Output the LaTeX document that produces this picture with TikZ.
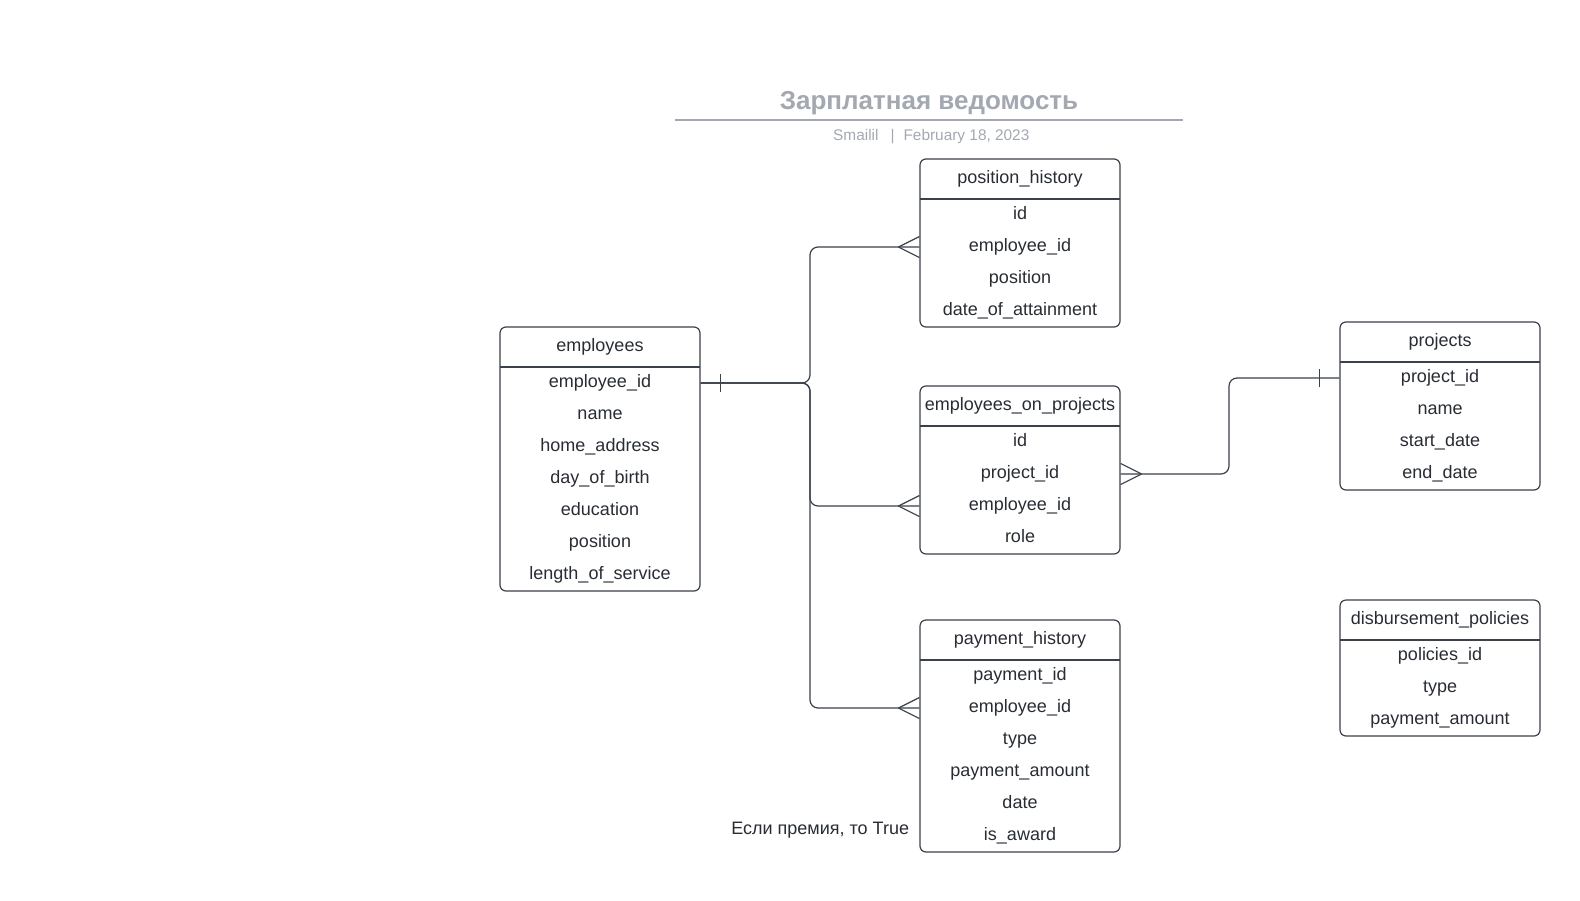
\documentclass[tikz,border=0pt]{standalone}
\usepackage{fontspec}
\setmainfont{Liberation Sans}
\usetikzlibrary{positioning,fit}

\definecolor{ink}{HTML}{282C33}
\definecolor{edge}{HTML}{3A414A}
\definecolor{titlegray}{HTML}{A3A8B1}

\begin{document}
\begin{tikzpicture}[x=1pt, y=-1pt,
    txt/.style={font=\fontsize{18}{22}\selectfont, text=ink, text height=12.5pt, text depth=3.5pt, inner sep=0pt, outer sep=0pt},
    head/.style={txt, minimum width=200pt, minimum height=40pt},
    field/.style={txt, minimum width=200pt, minimum height=32pt},
    table/.style={draw=edge, line width=1.2pt, rounded corners=6pt, inner sep=0pt},
    sep/.style={draw=edge, line width=1.2pt},
    rel/.style={draw=edge, line width=1.2pt, rounded corners=8pt},
    crowfoot/.pic={\draw[edge, line width=1.2pt] (-21,0) -- (0,-10.5) (-21,0) -- (0,10.5);},
    onebar/.pic={\draw[edge, line width=1.2pt] (20,-9) -- (20,9);}
]
\useasboundingbox (0,0) rectangle (1580,900);

% --- Title ---
\node[font=\fontsize{26}{30}\selectfont\bfseries, text=titlegray, anchor=base, inner sep=0pt] (title) at (929,109) {Зарплатная ведомость};
\draw[titlegray, line width=1.5pt] (675,120) -- (1183,120);
\node[font=\fontsize{15.4}{18}\selectfont, text=titlegray, anchor=base west, inner sep=0pt] (sub) at (833,140)
    {Smailil\hspace{12pt}|\hspace{9pt}February 18, 2023};

% --- employees ---
\node[head] (emp-h) at (600,347) {employees};
\node[field, below=0pt of emp-h] (emp-id) {employee\_id};
\node[field, below=0pt of emp-id] (emp-name) {name};
\node[field, below=0pt of emp-name] (emp-addr) {home\_address};
\node[field, below=0pt of emp-addr] (emp-birth) {day\_of\_birth};
\node[field, below=0pt of emp-birth] (emp-edu) {education};
\node[field, below=0pt of emp-edu] (emp-pos) {position};
\node[field, below=0pt of emp-pos] (emp-len) {length\_of\_service};
\node[table, fit=(emp-h)(emp-len)] (emp) {};
\draw[sep] (emp-h.south west) -- (emp-h.south east);

% --- position_history ---
\node[head] (ph-h) at (1020,179) {position\_history};
\node[field, below=0pt of ph-h] (ph-id) {id};
\node[field, below=0pt of ph-id] (ph-eid) {employee\_id};
\node[field, below=0pt of ph-eid] (ph-pos) {position};
\node[field, below=0pt of ph-pos] (ph-date) {date\_of\_attainment};
\node[table, fit=(ph-h)(ph-date)] (ph) {};
\draw[sep] (ph-h.south west) -- (ph-h.south east);

% --- employees_on_projects ---
\node[head] (eop-h) at (1020,406) {employees\_on\_projects};
\node[field, below=0pt of eop-h] (eop-id) {id};
\node[field, below=0pt of eop-id] (eop-pid) {project\_id};
\node[field, below=0pt of eop-pid] (eop-eid) {employee\_id};
\node[field, below=0pt of eop-eid] (eop-role) {role};
\node[table, fit=(eop-h)(eop-role)] (eop) {};
\draw[sep] (eop-h.south west) -- (eop-h.south east);

% --- payment_history ---
\node[head] (pay-h) at (1020,640) {payment\_history};
\node[field, below=0pt of pay-h] (pay-id) {payment\_id};
\node[field, below=0pt of pay-id] (pay-eid) {employee\_id};
\node[field, below=0pt of pay-eid] (pay-type) {type};
\node[field, below=0pt of pay-type] (pay-amt) {payment\_amount};
\node[field, below=0pt of pay-amt] (pay-date) {date};
\node[field, below=0pt of pay-date] (pay-award) {is\_award};
\node[table, fit=(pay-h)(pay-award)] (pay) {};
\draw[sep] (pay-h.south west) -- (pay-h.south east);

% --- projects ---
\node[head] (prj-h) at (1440,342) {projects};
\node[field, below=0pt of prj-h] (prj-id) {project\_id};
\node[field, below=0pt of prj-id] (prj-name) {name};
\node[field, below=0pt of prj-name] (prj-start) {start\_date};
\node[field, below=0pt of prj-start] (prj-end) {end\_date};
\node[table, fit=(prj-h)(prj-end)] (prj) {};
\draw[sep] (prj-h.south west) -- (prj-h.south east);

% --- disbursement_policies ---
\node[head] (dp-h) at (1440,620) {disbursement\_policies};
\node[field, below=0pt of dp-h] (dp-id) {policies\_id};
\node[field, below=0pt of dp-id] (dp-type) {type};
\node[field, below=0pt of dp-type] (dp-amt) {payment\_amount};
\node[table, fit=(dp-h)(dp-amt)] (dp) {};
\draw[sep] (dp-h.south west) -- (dp-h.south east);

% --- Note ---
\node[txt, anchor=east] (note) at (909,830) {Если премия, то True};

% --- Relations ---
\coordinate (bus) at (810,0);
\coordinate (bus2) at (1229,0);
\draw[rel] (emp.east |- emp-id) -- (bus |- emp-id) |- (ph.west |- ph-eid);
\draw[rel] (emp.east |- emp-id) -- (bus |- emp-id) |- (eop.west |- eop-eid);
\draw[rel] (emp.east |- emp-id) -- (bus |- emp-id) |- (pay.west |- pay-eid);
\draw[rel] (eop.east |- eop-pid) -- (bus2 |- eop-pid) |- (prj.west |- prj-id);

% --- Ends ---
\pic at (emp.east |- emp-id) {onebar};
\pic at (ph.west |- ph-eid) {crowfoot};
\pic at (eop.west |- eop-eid) {crowfoot};
\pic at (pay.west |- pay-eid) {crowfoot};
\pic[xscale=-1] at (eop.east |- eop-pid) {crowfoot};
\pic[xscale=-1] at (prj.west |- prj-id) {onebar};

\end{tikzpicture}
\end{document}
